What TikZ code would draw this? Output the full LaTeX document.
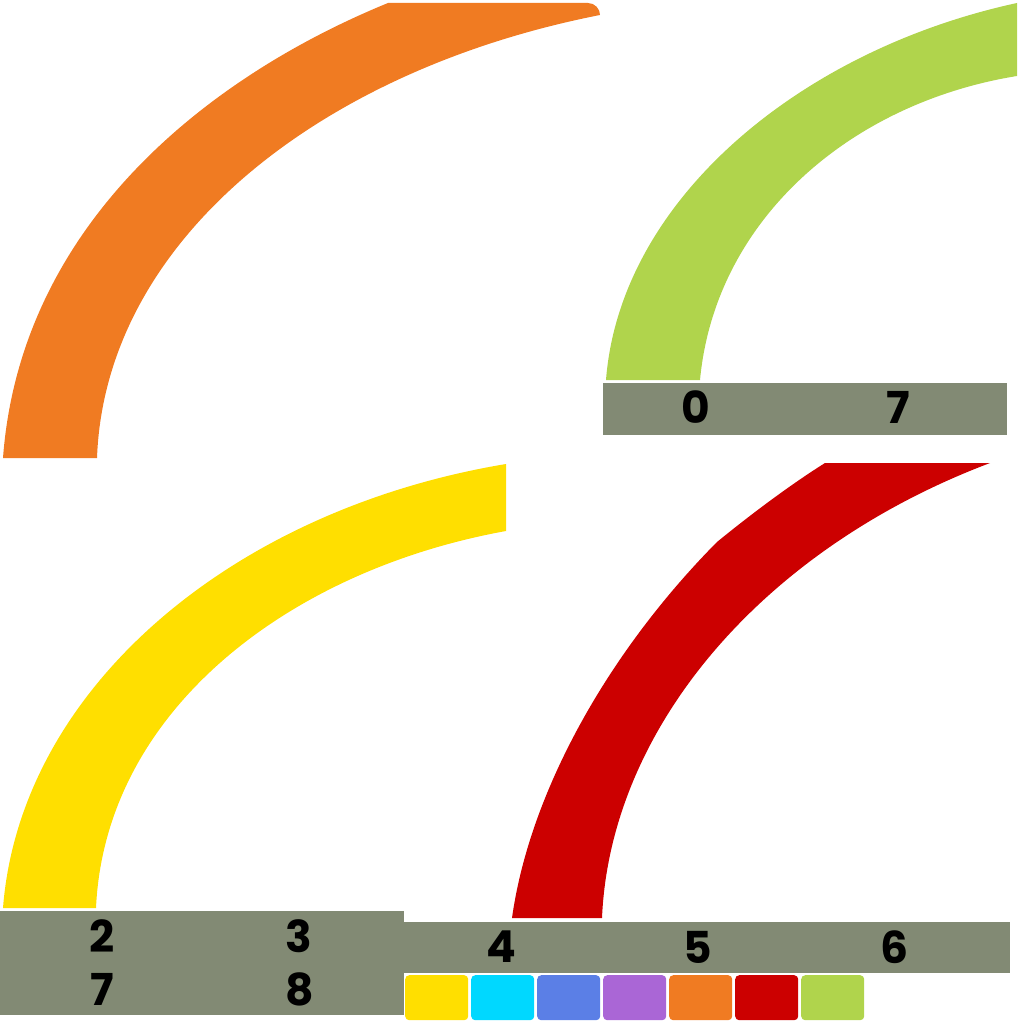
\documentclass[tikz,border=0pt]{standalone}
\usepackage{fontspec}
\newfontfamily\digitfont{Poppins}
\definecolor{cOrange}{RGB}{240,123,34}
\definecolor{cGreen}{RGB}{176,212,76}
\definecolor{cYellow}{RGB}{255,223,0}
\definecolor{cRed}{RGB}{204,0,0}
\definecolor{cCyan}{RGB}{0,216,255}
\definecolor{cBlue}{RGB}{91,127,230}
\definecolor{cPurple}{RGB}{170,102,214}
\definecolor{cBar}{RGB}{130,138,116}
\tikzset{
  bar/.style={fill=cBar,draw=none,inner sep=0pt,anchor=north west},
  digit/.style={font=\digitfont\bfseries\fontsize{44}{44}\selectfont,text=black,inner sep=0pt},
  swatch/.style={draw=none,rounded corners=4pt,minimum width=63pt,minimum height=45pt,inner sep=0pt,anchor=north west}
}
\begin{document}
\begin{tikzpicture}[x=1pt,y=-1pt]
\useasboundingbox (0,0) rectangle (1024,1024);
% orange arc
\fill[cOrange] (3,458) .. controls (20,230) and (200,80) .. (388,3) -- (588,3)
  .. controls (595,3) and (600,9) .. (600,15)
  .. controls (320,70) and (105,240) .. (97,458) -- cycle;
% green arc
\fill[cGreen] (606,380) .. controls (620,200) and (800,50) .. (1017,3) -- (1017,76)
  .. controls (850,103) and (715,220) .. (700,380) -- cycle;
% yellow arc
\fill[cYellow] (3,908) .. controls (20,690) and (230,510) .. (506,464) -- (506,531)
  .. controls (290,570) and (105,710) .. (96,908) -- cycle;
% red arc
\fill[cRed] (512,918) .. controls (530,790) and (610,650) .. (717,542)
  .. controls (750,515) and (790,485) .. (825,463) -- (990,463)
  .. controls (760,550) and (610,730) .. (602,918) -- cycle;
% bars
\node[bar,minimum width=404pt,minimum height=52pt] (barA) at (603,383) {};
\node[bar,minimum width=404pt,minimum height=104pt] (barB) at (0,911) {};
\node[bar,minimum width=607pt,minimum height=51pt] (barC) at (403,922) {};
% digits
\node[digit] (d0) at (696,407) {0};
\node[digit] (d1) at (898,407) {7};
\node[digit] (d2) at (102,936) {2};
\node[digit] (d3) at (299,936) {3};
\node[digit] (d7) at (102,989) {7};
\node[digit] (d8) at (300,989) {8};
\node[digit] (d4) at (501,947) {4};
\node[digit] (d5) at (698,947) {5};
\node[digit] (d6) at (894,947) {6};
% swatches
\node[swatch,fill=cYellow] (s1) at (405,975) {};
\node[swatch,fill=cCyan] (s2) at (471,975) {};
\node[swatch,fill=cBlue] (s3) at (537,975) {};
\node[swatch,fill=cPurple] (s4) at (603,975) {};
\node[swatch,fill=cOrange] (s5) at (669,975) {};
\node[swatch,fill=cRed] (s6) at (735,975) {};
\node[swatch,fill=cGreen] (s7) at (801,975) {};
\end{tikzpicture}
\end{document}
